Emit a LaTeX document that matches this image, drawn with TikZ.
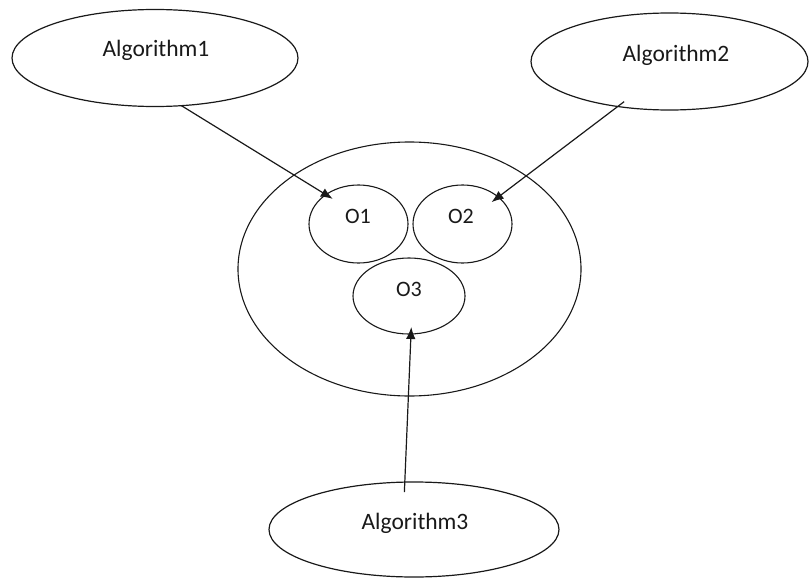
\documentclass[tikz,border=0pt]{standalone}
\usepackage{fontspec}
\setmainfont{Carlito}
\usetikzlibrary{shapes.geometric,arrows.meta}
\tikzset{
  oval/.style={draw=black!90, line width=1.2pt, ellipse, inner sep=0pt, outer sep=0pt},
  lbl/.style={anchor=base, inner sep=0pt, font=\fontsize{23.5}{28}\selectfont, text=black!90},
  olbl/.style={anchor=base, inner sep=0pt, font=\fontsize{22}{26}\selectfont, text=black!90},
  arr/.style={draw=black!90, line width=1.2pt, -{Latex[length=12pt,width=9.5pt]}}
}
\begin{document}
\begin{tikzpicture}[x=1pt,y=-1pt]
\useasboundingbox (0,0) rectangle (809,578);
\node[oval, minimum width=286, minimum height=97] (a1) at (155,58) {};
\node[oval, minimum width=277, minimum height=97] (a2) at (669.5,61.5) {};
\node[oval, minimum width=290, minimum height=95] (a3) at (414,529.5) {};
\node[oval, minimum width=343, minimum height=254, line width=1.1pt] (big) at (409.5,269) {};
\node[oval, minimum width=99, minimum height=78, line width=1.1pt] (o1) at (358.5,224) {};
\node[oval, minimum width=99, minimum height=78, line width=1.1pt] (o2) at (462.5,224) {};
\node[oval, minimum width=112, minimum height=76, line width=1.1pt] (o3) at (409,296) {};
\node[lbl] (t1) at (156,57) {Algorithm1};
\node[lbl] (t2) at (676,62) {Algorithm2};
\node[lbl] (t3) at (415,529) {Algorithm3};
\node[olbl] (to1) at (358,223) {O1};
\node[olbl] (to2) at (461,223) {O2};
\node[olbl] (to3) at (409,296) {O3};
\draw[arr, shorten >=-8pt] (a1.-61) -- (o1.138);
\draw[arr, shorten <=-8pt, shorten >=-8.4pt] (a2.-139) -- (o2.37);
\draw[arr, shorten <=-10pt, shorten >=-7pt] (a3.101) -- (o3.-87);
\end{tikzpicture}
\end{document}
